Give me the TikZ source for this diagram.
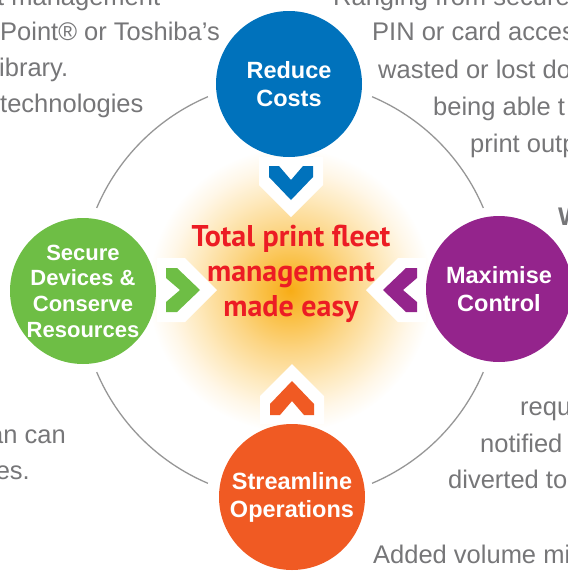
\documentclass[tikz,border=0pt]{standalone}
\usepackage{fontspec}
\setmainfont{Liberation Sans}
\newfontfamily\hubfont{PT Sans}
\usetikzlibrary{calc}

\definecolor{costblue}{RGB}{0,114,188}
\definecolor{securegreen}{RGB}{110,190,69}
\definecolor{controlpurple}{RGB}{148,36,140}
\definecolor{streamorange}{RGB}{240,90,35}
\definecolor{hubred}{RGB}{236,28,36}
\definecolor{ringgray}{RGB}{150,150,150}
\definecolor{textgray}{RGB}{118,118,120}
\definecolor{glowA}{RGB}{247,172,22}
\definecolor{glowB}{RGB}{250,192,70}
\definecolor{glowC}{RGB}{252,214,135}
\definecolor{glowD}{RGB}{254,234,192}
\definecolor{glowE}{RGB}{255,247,232}
\pgfdeclareradialshading{glow}{\pgfpoint{0bp}{0bp}}{color(0bp)=(glowA); color(5bp)=(glowB); color(11bp)=(glowC); color(17bp)=(glowD); color(21.5bp)=(glowE); color(25bp)=(white); color(50bp)=(white)}

\begin{document}
\begin{tikzpicture}[x=1pt,y=-1pt,
    spot/.style={circle,minimum size=146pt,inner sep=0pt,text=white,align=center,
      font=\bfseries\fontsize{23.5}{28}\selectfont},
    ring/.style={ringgray,line width=1.3pt},
    blurb/.style={anchor=base west,inner sep=0pt,text=textgray,
      font=\fontsize{25.5}{36}\selectfont},
    chev/.pic={
      \fill[white] (-32,-9) -- (-32,19) -- (0,51) -- (32,19) -- (32,-9) -- cycle;
      \fill[pic actions] (-22,0) -- (-22,11) -- (0,34) -- (22,11) -- (22,0)
        -- (12,0) -- (0,14) -- (-12,0) -- cycle;
    }]
  \useasboundingbox (0,0) rectangle (568,571);
  \clip (0,0) rectangle (568,571);

  % glow behind the hub
  \coordinate (mid) at (290,290);
  \shade[shading=glow] (mid) circle[radius=142pt];

  % ring between the four spots
  \draw[ring] (mid) ++(23:210) arc[start angle=23,end angle=67,radius=210];
  \draw[ring] (mid) ++(113:210) arc[start angle=113,end angle=157,radius=210];
  \draw[ring] (mid) ++(203:210) arc[start angle=203,end angle=247,radius=210];
  \draw[ring] (mid) ++(293:210) arc[start angle=293,end angle=337,radius=210];

  % chevrons
  \pic[fill=costblue] at (291,166) {chev};
  \pic[fill=securegreen,rotate=90] at (166,290) {chev};
  \pic[fill=controlpurple,rotate=-90] at (417,290) {chev};
  \pic[fill=streamorange,rotate=180] at (292,415) {chev};

  \node[spot,fill=costblue] (cost) at (289,84) {Reduce\\Costs};
  \node[spot,fill=securegreen,font=\bfseries\fontsize{22}{25.7}\selectfont] (secure) at (83,291)
    {Secure\\Devices \&\\Conserve\\Resources};
  \node[spot,fill=controlpurple] (control) at (499,289) {Maximise\\Control};
  \node[spot,fill=streamorange] (stream) at (292,497) {Streamline\\Operations};

  \node[text=hubred,align=center,font=\hubfont\bfseries\fontsize{30}{35}\selectfont] (hub)
    at (291,274) {Total print fleet\\management\\made easy};

  % text round the edges
  \node[blurb] (l1) at (-3,5) {t management};
  \node[blurb] (l2) at (0,40) {Point® or Toshiba’s};
  \node[blurb] (l3) at (-1,76) {ibrary.};
  \node[blurb] (l4) at (0,112) {technologies};
  \node[blurb,anchor=base east] (l5) at (66,443) {an can};
  \node[blurb,anchor=base east] (l6) at (30,479) {es.};
  \node[blurb] (r1) at (333,5) {Ranging from secure};
  \node[blurb] (r2) at (372,40) {PIN or card acces};
  \node[blurb] (r3) at (378,78) {wasted or lost do};
  \node[blurb] (r4) at (433,115) {being able t};
  \node[blurb] (r5) at (470,152) {print outp};
  \node[blurb,font=\bfseries\fontsize{25.5}{36}\selectfont] (r6) at (558,225) {W};
  \node[blurb] (r7) at (520,415) {requ};
  \node[blurb] (r8) at (480,452) {notified};
  \node[blurb] (r9) at (448,488) {diverted to};
  \node[blurb] (b1) at (373,563) {Added volume mi};
\end{tikzpicture}
\end{document}
